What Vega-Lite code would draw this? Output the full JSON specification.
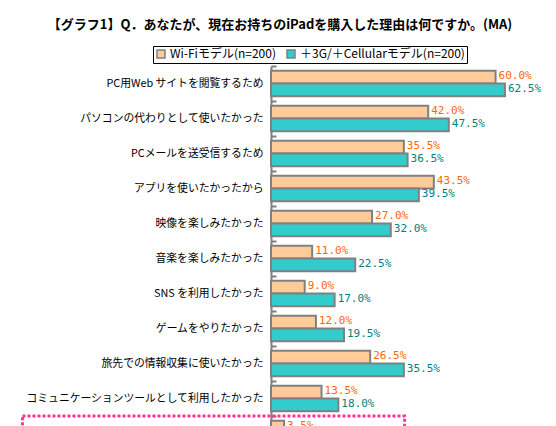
{
  "$schema": "https://vega.github.io/schema/vega-lite/v6.json",
  "width": 262,
  "height": 385,
  "autosize": "none",
  "padding": {"left": 271, "top": 66, "right": 23, "bottom": 0},
  "background": "white",
  "config": {"view": {"stroke": null}},
  "title": {
    "text": "【グラフ1】Q．あなたが、現在お持ちのiPadを購入した理由は何ですか。(MA)",
    "font": "Noto Sans CJK JP",
    "fontSize": 13,
    "fontWeight": "bold",
    "color": "#000000",
    "anchor": "middle",
    "frame": "group",
    "dx": -122,
    "offset": 14
  },
  "datasets": {
    "bars": [
      {"category": "PC用Web サイトを閲覧するため", "series": "Wi-Fiモデル(n=200)", "value": 0.600},
      {"category": "PC用Web サイトを閲覧するため", "series": "＋3G/＋Cellularモデル(n=200)", "value": 0.625},
      {"category": "パソコンの代わりとして使いたかった", "series": "Wi-Fiモデル(n=200)", "value": 0.420},
      {"category": "パソコンの代わりとして使いたかった", "series": "＋3G/＋Cellularモデル(n=200)", "value": 0.475},
      {"category": "PCメールを送受信するため", "series": "Wi-Fiモデル(n=200)", "value": 0.355},
      {"category": "PCメールを送受信するため", "series": "＋3G/＋Cellularモデル(n=200)", "value": 0.365},
      {"category": "アプリを使いたかったから", "series": "Wi-Fiモデル(n=200)", "value": 0.435},
      {"category": "アプリを使いたかったから", "series": "＋3G/＋Cellularモデル(n=200)", "value": 0.395},
      {"category": "映像を楽しみたかった", "series": "Wi-Fiモデル(n=200)", "value": 0.270},
      {"category": "映像を楽しみたかった", "series": "＋3G/＋Cellularモデル(n=200)", "value": 0.320},
      {"category": "音楽を楽しみたかった", "series": "Wi-Fiモデル(n=200)", "value": 0.110},
      {"category": "音楽を楽しみたかった", "series": "＋3G/＋Cellularモデル(n=200)", "value": 0.225},
      {"category": "SNS を利用したかった", "series": "Wi-Fiモデル(n=200)", "value": 0.090},
      {"category": "SNS を利用したかった", "series": "＋3G/＋Cellularモデル(n=200)", "value": 0.170},
      {"category": "ゲームをやりたかった", "series": "Wi-Fiモデル(n=200)", "value": 0.120},
      {"category": "ゲームをやりたかった", "series": "＋3G/＋Cellularモデル(n=200)", "value": 0.195},
      {"category": "旅先での情報収集に使いたかった", "series": "Wi-Fiモデル(n=200)", "value": 0.265},
      {"category": "旅先での情報収集に使いたかった", "series": "＋3G/＋Cellularモデル(n=200)", "value": 0.355},
      {"category": "コミュニケーションツールとして利用したかった", "series": "Wi-Fiモデル(n=200)", "value": 0.135},
      {"category": "コミュニケーションツールとして利用したかった", "series": "＋3G/＋Cellularモデル(n=200)", "value": 0.180},
      {"category": "項目11", "series": "Wi-Fiモデル(n=200)", "value": 0.035}
    ],
    "box": [
      {"category": "項目11", "x1": -0.664, "x2": 0.357}
    ]
  },
  "layer": [
    {
      "data": {"name": "bars"},
      "mark": {"type": "bar", "stroke": "#808080", "strokeWidth": 2, "cornerRadius": 0},
      "encoding": {
        "y": {
          "field": "category", "type": "nominal",
          "sort": ["PC用Web サイトを閲覧するため", "パソコンの代わりとして使いたかった", "PCメールを送受信するため", "アプリを使いたかったから", "映像を楽しみたかった", "音楽を楽しみたかった", "SNS を利用したかった", "ゲームをやりたかった", "旅先での情報収集に使いたかった", "コミュニケーションツールとして利用したかった", "項目11"],
          "scale": {"paddingInner": 0, "paddingOuter": 0},
          "axis": {
            "title": null,
            "domainColor": "#808080", "domainWidth": 2,
            "tickColor": "#808080", "tickWidth": 2, "tickSize": -5,
            "tickBand": "extent",
            "labelFont": "Noto Sans CJK JP", "labelFontSize": 10.8, "labelColor": "#000000",
            "labelPadding": 13, "labelLimit": 300
          }
        },
        "yOffset": {
          "field": "series", "type": "nominal",
          "sort": ["Wi-Fiモデル(n=200)", "＋3G/＋Cellularモデル(n=200)"],
          "scale": {"paddingInner": 0, "paddingOuter": 0.378}
        },
        "x": {
          "field": "value", "type": "quantitative",
          "scale": {"domain": [0, 0.7], "nice": false, "zero": true},
          "axis": null
        },
        "fill": {
          "field": "series", "type": "nominal",
          "scale": {"domain": ["Wi-Fiモデル(n=200)", "＋3G/＋Cellularモデル(n=200)"], "range": ["#FFCC99", "#33CCCC"]},
          "legend": {
            "title": null,
            "orient": "none",
            "direction": "horizontal",
            "legendX": -118,
            "legendY": -20,
            "strokeColor": "#000000",
            "padding": 2,
            "symbolType": "square",
            "symbolSize": 64,
            "symbolStrokeColor": "#808080",
            "symbolStrokeWidth": 1.5,
            "symbolOpacity": 1,
            "labelFont": "Noto Sans CJK JP",
            "labelFontSize": 12,
            "labelColor": "#000000",
            "labelOffset": 3,
            "columnPadding": 8,
            "labelLimit": 300
          }
        }
      }
    },
    {
      "data": {"name": "bars"},
      "mark": {"type": "text", "align": "left", "baseline": "middle", "dx": 3, "dy": -1, "font": "DejaVu Sans Mono", "fontSize": 11},
      "encoding": {
        "y": {"field": "category", "type": "nominal", "sort": ["PC用Web サイトを閲覧するため", "パソコンの代わりとして使いたかった", "PCメールを送受信するため", "アプリを使いたかったから", "映像を楽しみたかった", "音楽を楽しみたかった", "SNS を利用したかった", "ゲームをやりたかった", "旅先での情報収集に使いたかった", "コミュニケーションツールとして利用したかった", "項目11"]},
        "yOffset": {"field": "series", "type": "nominal", "sort": ["Wi-Fiモデル(n=200)", "＋3G/＋Cellularモデル(n=200)"]},
        "x": {"field": "value", "type": "quantitative"},
        "text": {"field": "value", "type": "quantitative", "format": ".1%"},
        "color": {
          "field": "series", "type": "nominal",
          "scale": {"domain": ["Wi-Fiモデル(n=200)", "＋3G/＋Cellularモデル(n=200)"], "range": ["#FF6600", "#008080"]},
          "legend": null
        }
      }
    },
    {
      "data": {"name": "box"},
      "mark": {"type": "rect", "fill": null, "stroke": "#FF3399", "strokeWidth": 3, "strokeDash": [3, 2]},
      "encoding": {
        "y": {"field": "category", "type": "nominal", "sort": ["PC用Web サイトを閲覧するため", "パソコンの代わりとして使いたかった", "PCメールを送受信するため", "アプリを使いたかったから", "映像を楽しみたかった", "音楽を楽しみたかった", "SNS を利用したかった", "ゲームをやりたかった", "旅先での情報収集に使いたかった", "コミュニケーションツールとして利用したかった", "項目11"]},
        "x": {"field": "x1", "type": "quantitative"},
        "x2": {"field": "x2"}
      }
    }
  ]
}
